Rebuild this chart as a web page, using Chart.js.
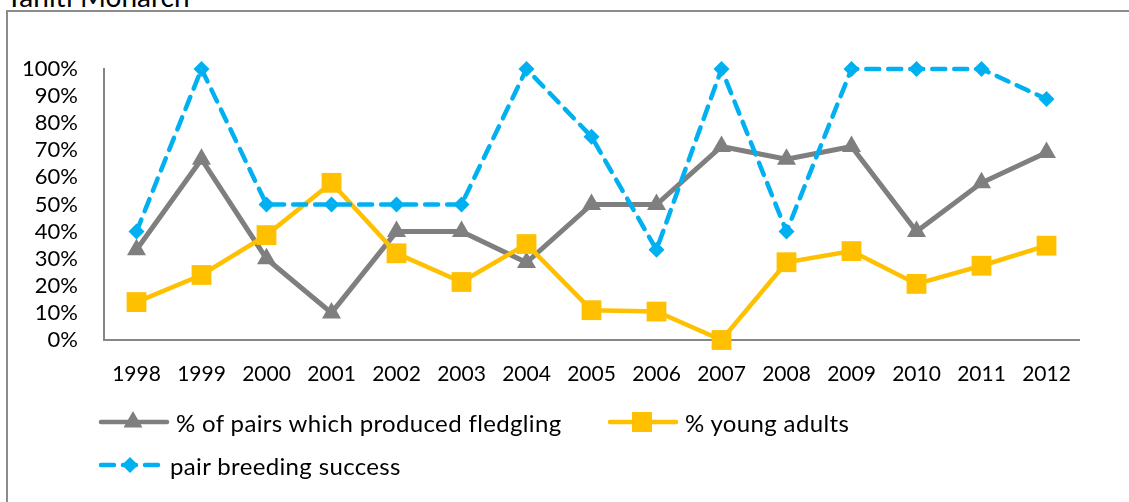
<!DOCTYPE html>
<html>
<head>
<meta charset="utf-8">
<script src="https://cdn.jsdelivr.net/npm/chart.js@4.4.1/dist/chart.umd.min.js"></script>
<style>
  html, body { margin: 0; padding: 0; background: #fff; }
  body { width: 1129px; height: 502px; position: relative; overflow: hidden; font-family: Lato, "Liberation Sans", sans-serif; }
  #frame { position: absolute; left: 6px; top: 10px; width: 1300px; height: 700px; border: 2px solid #8c8c8c; box-sizing: border-box; }
  #title { position: absolute; left: 6px; top: -18px; font-size: 28px; line-height: 28px; color: #000; white-space: nowrap; }
  #chart { position: absolute; left: 0; top: 0; }
  .leg { position: absolute; display: flex; align-items: center; font-size: 24px; letter-spacing: 0.35px; color: #000; white-space: nowrap; }
  .leg canvas { display: block; margin-right: 6px; }
</style>
</head>
<body>
<div id="frame"></div>
<div id="title">Tahiti Monarch</div>
<canvas id="chart" width="1129" height="502"></canvas>
<div class="leg" id="leg0" style="left:98px; top:407px;"></div>
<div class="leg" id="leg1" style="left:607px; top:407px;"></div>
<div class="leg" id="leg2" style="left:98px; top:450px;"></div>
<script>
const years = ["1998","1999","2000","2001","2002","2003","2004","2005","2006","2007","2008","2009","2010","2011","2012"];
const pairsFledgling = [33.3, 66.7, 30, 10, 40, 40, 28.6, 50, 50, 71.4, 66.7, 71.4, 40, 58, 69.2];
const youngAdults = [14, 24, 38.7, 58, 32, 21.4, 35.4, 11, 10.5, 0, 28.7, 32.8, 20.7, 27.4, 34.8];
const pairBreeding = [40, 100, 50, 50, 50, 50, 100, 75, 33.3, 100, 40, 100, 100, 100, 88.9];
const seriesNames = ["% of pairs which produced fledgling", "% young adults", "pair breeding success"];
const yTicks = [0, 10, 20, 30, 40, 50, 60, 70, 80, 90, 100];

const GREY = "#7f7f7f", GOLD = "#ffc000", BLUE = "#00b0f0";
const FONT = "Lato, 'Liberation Sans', sans-serif";

const datasets = [
  { label: seriesNames[0], data: pairsFledgling, borderColor: GREY, backgroundColor: GREY,
    borderWidth: 5, pointStyle: "triangle", pointRadius: 11, pointBorderWidth: 0,
    pointBackgroundColor: GREY, tension: 0, order: 3, clip: false },
  { label: seriesNames[1], data: youngAdults, borderColor: GOLD, backgroundColor: GOLD,
    borderWidth: 4.5, pointStyle: "rect", pointRadius: 14, pointBorderWidth: 0,
    pointBackgroundColor: GOLD, tension: 0, order: 2, clip: false },
  { label: seriesNames[2], data: pairBreeding, borderColor: BLUE, backgroundColor: BLUE,
    borderWidth: 4.5, borderDash: [13, 9], borderCapStyle: "round", pointStyle: "rectRot", pointRadius: 8,
    pointBorderWidth: 0, pointBackgroundColor: BLUE, tension: 0, order: 1, clip: false }
];

new Chart(document.getElementById("chart"), {
  type: "line",
  data: { labels: years, datasets: datasets },
  options: {
    responsive: false,
    animation: false,
    events: [],
    layout: { padding: { left: 0, top: 69, right: 50, bottom: 0 } },
    plugins: { legend: { display: false }, tooltip: { enabled: false }, title: { display: false } },
    scales: {
      x: {
        type: "category",
        offset: true,
        grid: { display: false, drawTicks: false },
        border: { display: true, color: "#868686", width: 2 },
        ticks: { color: "#000", font: { family: FONT, size: 21 }, padding: 22, autoSkip: false, maxRotation: 0 },
        afterFit: (s) => { s.height = 162; }
      },
      y: {
        min: 0, max: 100,
        afterBuildTicks: (s) => { s.ticks = yTicks.map(v => ({ value: v })); },
        grid: { display: false, drawTicks: false },
        border: { display: true, color: "#868686", width: 2 },
        ticks: { color: "#000", font: { family: FONT, size: 22 }, padding: 26, autoSkip: false, callback: (v) => v + "%" },
        afterFit: (s) => { s.width = 104; }
      }
    }
  }
});

// legend
function legendGlyph(ds, w) {
  const c = document.createElement("canvas");
  c.width = w; c.height = 30;
  const ctx = c.getContext("2d");
  ctx.strokeStyle = ds.borderColor; ctx.fillStyle = ds.borderColor;
  ctx.lineWidth = 4.5; ctx.lineCap = "round";
  if (ds.borderDash) ctx.setLineDash(ds.borderDash);
  ctx.beginPath(); ctx.moveTo(3, 15); ctx.lineTo(w - 3, 15); ctx.stroke();
  ctx.setLineDash([]);
  const cx = w / 2 - 1, cy = 15;
  ctx.beginPath();
  if (ds.pointStyle === "triangle") {
    ctx.moveTo(cx, cy - 11); ctx.lineTo(cx + 9.5, cy + 5.5); ctx.lineTo(cx - 9.5, cy + 5.5);
  } else if (ds.pointStyle === "rect") {
    ctx.rect(cx - 10, cy - 10, 20, 20);
  } else {
    ctx.moveTo(cx - 8, cy); ctx.lineTo(cx, cy - 8); ctx.lineTo(cx + 8, cy); ctx.lineTo(cx, cy + 8);
  }
  ctx.closePath(); ctx.fill();
  return c;
}
const legW = [72, 72, 66];
datasets.forEach((ds, i) => {
  const el = document.getElementById("leg" + i);
  el.appendChild(legendGlyph(ds, legW[i]));
  const sp = document.createElement("span");
  sp.textContent = ds.label;
  el.appendChild(sp);
});
</script>
</body>
</html>
